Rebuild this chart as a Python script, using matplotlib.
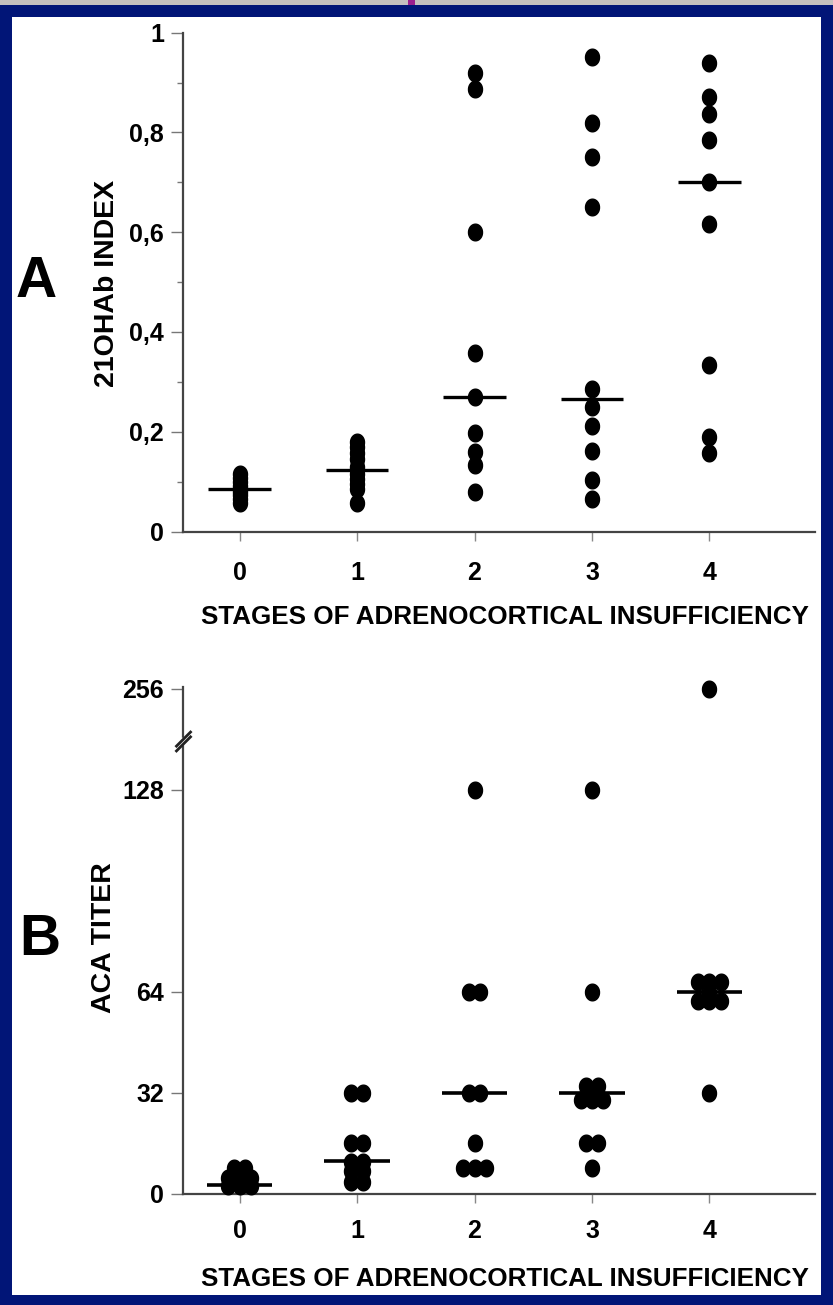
import numpy as np
import matplotlib.pyplot as plt
from matplotlib.path import Path
from matplotlib.patches import Rectangle

plt.rcParams['font.family'] = ['Liberation Sans', 'DejaVu Sans']
plt.rcParams['font.weight'] = 'bold'

stages = [0, 1, 2, 3, 4]
stage_labels = ['0', '1', '2', '3', '4']

# panel A: 21OHAb index for each stage
index_a = [
    [0.116, 0.108, 0.100, 0.092, 0.086, 0.080, 0.073, 0.065, 0.057],
    [0.180, 0.170, 0.158, 0.145, 0.130, 0.123, 0.115, 0.105, 0.095, 0.085, 0.058],
    [0.919, 0.888, 0.600, 0.357, 0.270, 0.198, 0.159, 0.133, 0.079],
    [0.951, 0.819, 0.751, 0.650, 0.285, 0.249, 0.212, 0.162, 0.103, 0.065],
    [0.940, 0.872, 0.837, 0.784, 0.700, 0.616, 0.334, 0.190, 0.157],
]
median_a = [0.086, 0.123, 0.270, 0.266, 0.700]
yticks_a = [0, 0.2, 0.4, 0.6, 0.8, 1]
yticklabels_a = ['0', '0,2', '0,4', '0,6', '0,8', '1']

# panel B: ACA titer for each stage
titer_b = [
    [8, 8, 5, 5, 5, 2.5, 2.5, 2.5],
    [32, 32, 16, 16, 10, 10, 7, 7, 3.5, 3.5],
    [128, 64, 64, 32, 32, 16, 8, 8, 8],
    [128, 64, 34, 34, 29.5, 29.5, 29.5, 16, 16, 8],
    [256, 67, 67, 67, 64, 61, 61, 61, 32],
]
median_b = [2.7, 10.4, 32, 32, 64]
yticks_b = [0, 32, 64, 128, 256]
break_b = 190  # where the axis break mark sits (titer scale)


def broken(v):
    # axis is linear up to 128, compressed above the break
    v = np.asarray(v, dtype=float)
    return np.where(v > 128, 128 + (v - 128) / 4, v)


W, H = 833, 1305
NAVY = '#011577'

fig = plt.figure(figsize=(W / 100, H / 100), dpi=100, facecolor=NAVY)


def box(l, t, r, b):
    return [l / W, 1 - b / H, (r - l) / W, (b - t) / H]


def fx(x):
    return x / W


def fy(y):
    return 1 - y / H


# slide frame
fig.patches.append(Rectangle((0, fy(5)), 1, 5 / H, transform=fig.transFigure,
                             facecolor='#c4c0bf', edgecolor='none', zorder=-2))
fig.patches.append(Rectangle((fx(408), fy(5)), 7 / W, 5 / H, transform=fig.transFigure,
                             facecolor='#9b1f8e', edgecolor='none', zorder=-1))
fig.patches.append(Rectangle((fx(11.7), fy(1295)), (821 - 11.7) / W, (1295 - 17) / H,
                             transform=fig.transFigure, facecolor='white',
                             edgecolor='none', zorder=-1))

# slightly tall elliptical dot, as in the scanned figure
t = np.linspace(0, 2 * np.pi, 40)
dot = Path(np.column_stack([0.42 * np.cos(t), 0.5 * np.sin(t)]))
brk = Path([(-0.5, -0.65), (0.5, 0.35), (-0.5, -0.35), (0.5, 0.65)],
           [Path.MOVETO, Path.LINETO, Path.MOVETO, Path.LINETO])

XLIM = (-0.481, 4.898)
AX_COL = '#444444'


def style(ax, xpad):
    for s in ['top', 'right']:
        ax.spines[s].set_visible(False)
    for s in ['left', 'bottom']:
        ax.spines[s].set_color(AX_COL)
        ax.spines[s].set_linewidth(1.6)
    ax.set_xlim(*XLIM)
    ax.set_xticks(stages)
    ax.set_xticklabels(stage_labels)
    ax.tick_params(axis='x', direction='out', length=6.5, width=1.0, color='#888',
                   pad=xpad, labelsize=18)
    ax.tick_params(axis='y', which='major', direction='out', length=8.6, width=1.0,
                   color='#777', pad=5, labelsize=18)
    ax.tick_params(axis='y', which='minor', direction='out', length=4.5, width=1.0,
                   color='#777')
    ax.patch.set_alpha(0)


# ---- panel A ----
axA = fig.add_axes(box(183, 32.7, 815, 531.5))
style(axA, 15)
for s, vals, med in zip(stages, index_a, median_a):
    axA.plot([s] * len(vals), vals, linestyle='none', marker=dot, ms=12,
             color='black', zorder=4, clip_on=False)
    axA.hlines(med, s - 0.265, s + 0.265, color='black', lw=2.4, zorder=3)
axA.set_ylim(0, 1)
axA.set_yticks(yticks_a)
axA.set_yticklabels(yticklabels_a)
axA.set_yticks(np.arange(0.1, 1.0, 0.2), minor=True)

# ---- panel B ----
axB = fig.add_axes(box(183, 687, 815, 1193.5))
style(axB, 12)
for s, vals, med in zip(stages, titer_b, median_b):
    vals = np.asarray(vals, dtype=float)
    xs = np.full(len(vals), float(s))
    for v in np.unique(vals):
        idx = np.where(vals == v)[0]
        xs[idx] = s + (np.arange(len(idx)) - (len(idx) - 1) / 2) * 0.097
    axB.plot(xs, broken(vals), linestyle='none', marker=dot, ms=12,
             color='black', zorder=4, clip_on=False)
    axB.hlines(med, s - 0.28, s + 0.28, color='black', lw=2.6, zorder=3)
axB.set_ylim(0, 160.5)
axB.set_yticks(broken(yticks_b))
axB.set_yticklabels([str(v) for v in yticks_b])
axB.plot([XLIM[0]], broken([break_b]), marker='s', ms=4, color='white', mec='white',
         linestyle='none', clip_on=False, zorder=5)
axB.plot([XLIM[0]], broken([break_b]), marker=brk, ms=15, mew=2.0, color='#222',
         linestyle='none', clip_on=False, zorder=6)

# ---- labels ----
fig.text(fx(36.5), fy(282), 'A', fontsize=41, ha='center', va='center')
fig.text(fx(40), fy(940), 'B', fontsize=41, ha='center', va='center')
fig.text(fx(107), fy(283), '21OHAb INDEX', fontsize=20.5, rotation=90,
         ha='center', va='center')
fig.text(fx(104), fy(938), 'ACA TITER', fontsize=20.5, rotation=90,
         ha='center', va='center')
fig.text(fx(505), fy(617), 'STAGES OF ADRENOCORTICAL INSUFFICIENCY', fontsize=18.7,
         ha='center', va='center')
fig.text(fx(505), fy(1279), 'STAGES OF ADRENOCORTICAL INSUFFICIENCY', fontsize=18.7,
         ha='center', va='center')

fig.savefig('out.png', dpi=100, facecolor=NAVY)
